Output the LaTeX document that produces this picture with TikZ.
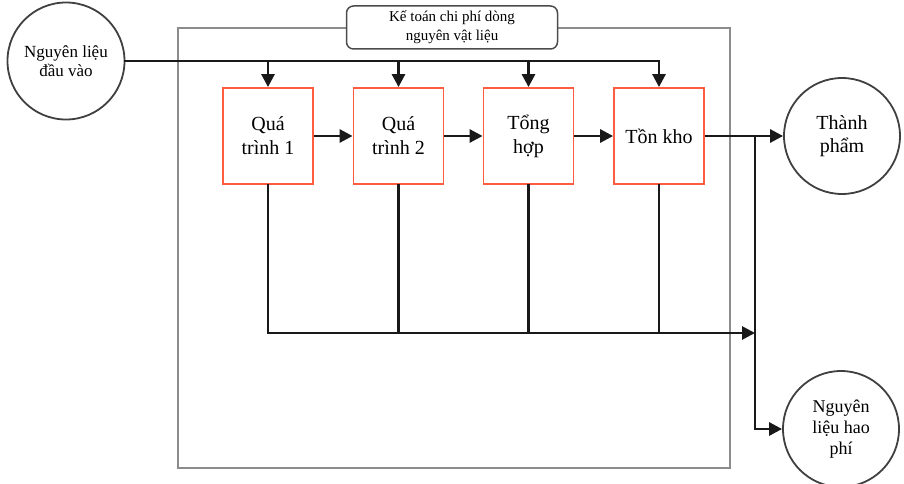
\documentclass[tikz,border=0pt]{standalone}
\usepackage{fontspec}
\setmainfont{Liberation Serif}
\usetikzlibrary{arrows.meta,calc}

\begin{document}
\begin{tikzpicture}[x=1pt,y=-1pt,
  flow/.style={line width=2.8pt, draw=black!90, line cap=rect},
  tip/.style={-{Triangle[length=13pt,width=13pt]}},
  procbox/.style={draw=red!70!orange!75, line width=1.8pt, fill=white,
    minimum width=90pt, minimum height=96pt, align=center,
    font=\fontsize{20}{24}\selectfont, inner sep=0pt},
  endpoint/.style={circle, draw=black!75, line width=1.8pt, fill=white,
    minimum size=#1, align=center, inner sep=0pt},
  frame/.style={draw=black!45, line width=1.8pt},
  titlebox/.style={draw=black!70, line width=1.5pt, rounded corners=7pt,
    fill=white, minimum width=211pt, minimum height=43pt, align=center,
    font=\fontsize{15}{19}\selectfont, inner sep=0pt}
]
\useasboundingbox (0,0) rectangle (904,484);

% enclosing frame of the material flow cost accounting area
\draw[frame] (178,28) rectangle (730,468);
\node[titlebox] (title) at (452,27.5) {Kế toán chi phí dòng\\nguyên vật liệu};

% input and output circles
\node[endpoint=117pt, font=\fontsize{17}{19}\selectfont] (input) at (66,61) {Nguyên liệu\\đầu vào};
\node[endpoint=116pt, font=\fontsize{20}{23}\selectfont] (product) at (842,136) {Thành\\phẩm};
\node[endpoint=116pt, font=\fontsize{18}{21}\selectfont] (waste) at (841,429) {Nguyên\\liệu hao\\phí};

% process steps
\node[procbox] (p1) at (268,136) {Quá\\trình 1};
\node[procbox] (p2) at (398.5,136) {Quá\\trình 2};
\node[procbox] (p3) at (528.5,136) {Tổng\\hợp};
\node[procbox] (p4) at (659,136) {Tồn kho};

% material input feeding every step
\coordinate (feedend) at (p4.north |- input.east);
\draw[flow] (input.east) -- (feedend);
\foreach \b in {p1,p2,p3,p4}
  \draw[flow, tip, line cap=butt] (\b.north |- input.east) -- (\b.north);

% main flow between steps
\draw[flow, tip, line cap=butt] (p1.east) -- (p2.west);
\draw[flow, tip, line cap=butt] (p2.east) -- (p3.west);
\draw[flow, tip, line cap=butt] (p3.east) -- (p4.west);
\draw[flow, tip, line cap=butt] (p4.east) -- (product.west);

% losses collected from each step
\coordinate (split) at (755,136);
\coordinate (collect) at (p1.south |- 0,333);
\coordinate (collectend) at (split |- 0,333);
\draw[flow] (p1.south) -- (collect);
\draw[flow, tip, line cap=butt] (collect) -- (collectend);
\foreach \b in {p2,p3,p4}
  \draw[flow] (\b.south) -- (\b.south |- collect);

% branch from the output line to the loss circle
\draw[flow, tip, line cap=butt] (split) |- (waste.west);
\end{tikzpicture}
\end{document}
